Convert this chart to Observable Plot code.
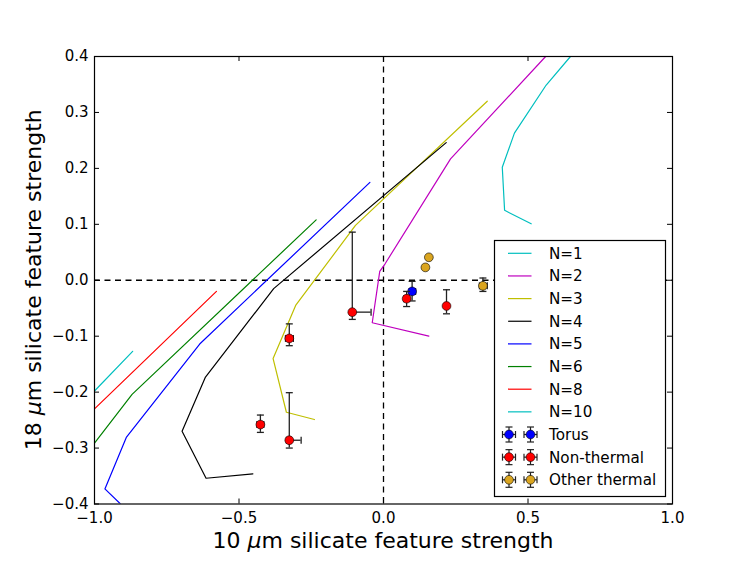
<!DOCTYPE html>
<html>
<head>
<meta charset="utf-8">
<script src="https://cdn.jsdelivr.net/npm/d3@7"></script>
<script src="https://cdn.jsdelivr.net/npm/@observablehq/plot@0.6"></script>
<style>
  body { margin: 0; background: #fff; }
  #chart { position: relative; width: 747px; height: 561px; }
</style>
</head>
<body>
<div id="chart"></div>
<script>
// ---- data ----
const xTicks = [-1.0, -0.5, 0.0, 0.5, 1.0];
const yTicks = [-0.4, -0.3, -0.2, -0.1, 0.0, 0.1, 0.2, 0.3, 0.4];

const seriesNames = ["N=1", "N=2", "N=3", "N=4", "N=5", "N=6", "N=8", "N=10"];
const seriesColors = ["#00bfbf", "#bf00bf", "#bfbf00", "#000000", "#0000ff", "#008000", "#ff0000", "#00bfbf"];

const curveN1 = [[0.647, 0.400], [0.563, 0.349], [0.453, 0.263], [0.411, 0.202], [0.419, 0.125], [0.511, 0.101]];
const curveN2 = [[0.561, 0.400], [0.232, 0.217], [0.005, 0.029], [-0.013, 0.016], [-0.039, -0.076], [0.157, -0.100]];
const curveN3 = [[0.359, 0.320], [-0.097, 0.098], [-0.304, -0.045], [-0.382, -0.140], [-0.336, -0.236], [-0.239, -0.249]];
const curveN4 = [[0.217, 0.246], [-0.380, -0.015], [-0.616, -0.173], [-0.697, -0.270], [-0.614, -0.354], [-0.452, -0.346]];
const curveN5 = [[-0.047, 0.175], [-0.636, -0.114], [-0.890, -0.281], [-0.964, -0.373], [-0.910, -0.400]];
const curveN6 = [[-0.233, 0.108], [-0.870, -0.204], [-1.000, -0.291]];
const curveN8 = [[-0.578, -0.020], [-1.000, -0.230]];
const curveN10 = [[-0.868, -0.127], [-1.000, -0.198]];
const curves = [curveN1, curveN2, curveN3, curveN4, curveN5, curveN6, curveN8, curveN10];

// points: [x, y, xlo, xhi, ylo, yhi]
const torus = [[0.099, -0.020, 0.089, 0.111, -0.037, -0.002]];
const nonThermal = [
  [-0.108, -0.057, -0.115, -0.043, -0.070, 0.086],
  [-0.326, -0.104, -0.339, -0.312, -0.117, -0.078],
  [-0.426, -0.258, -0.438, -0.414, -0.272, -0.241],
  [-0.326, -0.286, -0.336, -0.285, -0.300, -0.201],
  [0.080, -0.033, 0.070, 0.090, -0.047, -0.020],
  [0.218, -0.046, 0.212, 0.224, -0.060, -0.017]
];
const otherThermal = [
  [0.157, 0.041, 0.157, 0.157, 0.041, 0.041],
  [0.145, 0.023, 0.145, 0.145, 0.023, 0.023],
  [0.344, -0.010, 0.332, 0.359, -0.020, 0.004]
];
const groupNames = ["Torus", "Non-thermal", "Other thermal"];
const groupColors = ["#0000ff", "#ff0000", "#daa520"];
const groupData = [torus, nonThermal, otherThermal];

const xLabel = ["10 ", "μ", "m silicate feature strength"];
const yLabel = ["18 ", "μ", "m silicate feature strength"];

// ---- build ----
const W = 747, H = 561;
const mL = 94, mR = 75, mT = 56, mB = 57.5;
const plotW = W - mL - mR, plotH = H - mT - mB;
const font = "DejaVu Sans, sans-serif";
const tick = 5;
const errColor = "#222";
const tickFont = 15;
const legendFont = 15.2;

const hCap = { draw(ctx) { ctx.moveTo(-3.5, 0); ctx.lineTo(3.5, 0); } };
const vCap = { draw(ctx) { ctx.moveTo(0, -3.5); ctx.lineTo(0, 3.5); } };

const marks = [
  Plot.ruleX([0], { x: d => d, stroke: "black", strokeWidth: 1.3, strokeDasharray: "6,4.5" }),
  Plot.ruleY([0], { y: d => d, stroke: "black", strokeWidth: 1.3, strokeDasharray: "6,4.5" })
];
curves.forEach((c, i) => {
  marks.push(Plot.line(c, { x: d => d[0], y: d => d[1], stroke: seriesColors[i], strokeWidth: 1.2, clip: true }));
});
groupData.forEach((g, i) => {
  const rows = g.map(p => ({ x: p[0], y: p[1], xlo: p[2], xhi: p[3], ylo: p[4], yhi: p[5] }));
  marks.push(
    Plot.ruleX(rows, { x: "x", y1: "ylo", y2: "yhi", stroke: errColor, strokeWidth: 1.3 }),
    Plot.ruleY(rows, { y: "y", x1: "xlo", x2: "xhi", stroke: errColor, strokeWidth: 1.3 }),
    Plot.dot(rows, { x: "x", y: "ylo", symbol: hCap, fill: "none", stroke: errColor, strokeWidth: 1.3, r: 3 }),
    Plot.dot(rows, { x: "x", y: "yhi", symbol: hCap, fill: "none", stroke: errColor, strokeWidth: 1.3, r: 3 }),
    Plot.dot(rows, { x: "xlo", y: "y", symbol: vCap, fill: "none", stroke: errColor, strokeWidth: 1.3, r: 3 }),
    Plot.dot(rows, { x: "xhi", y: "y", symbol: vCap, fill: "none", stroke: errColor, strokeWidth: 1.3, r: 3 }),
    Plot.dot(rows, { x: "x", y: "y", r: 4.4, fill: groupColors[i], stroke: "black", strokeWidth: 0.6 })
  );
});
// inward ticks on all four sides
marks.push(
  Plot.tickX(xTicks, { x: d => d, insetTop: plotH - tick, stroke: "black" }),
  Plot.tickX(xTicks, { x: d => d, insetBottom: plotH - tick, stroke: "black" }),
  Plot.tickY(yTicks, { y: d => d, insetRight: plotW - tick, stroke: "black" }),
  Plot.tickY(yTicks, { y: d => d, insetLeft: plotW - tick, stroke: "black" }),
  Plot.axisX(xTicks, { tickSize: 0, tickPadding: 8, tickFormat: d3.format(".1f"), fontSize: tickFont, label: null }),
  Plot.axisY(yTicks, { tickSize: 0, tickPadding: 6, tickFormat: d3.format(".1f"), fontSize: tickFont, label: null }),
  Plot.frame({ stroke: "black", strokeWidth: 1.2 })
);

const svg = Plot.plot({
  width: W, height: H,
  marginLeft: mL, marginRight: mR, marginTop: mT, marginBottom: mB,
  style: { fontFamily: font, color: "black", background: "white" },
  x: { domain: [-1, 1] },
  y: { domain: [-0.4, 0.4] },
  marks
});
document.getElementById("chart").appendChild(svg);

const s = d3.select(svg);
// axis titles
function title(sel, parts) {
  sel.append("tspan").text(parts[0]);
  sel.append("tspan").attr("font-style", "italic").text(parts[1]);
  sel.append("tspan").text(parts[2]);
}
const xt = s.append("text").attr("x", mL + plotW / 2).attr("y", 547.5)
  .attr("text-anchor", "middle").attr("font-size", 22).attr("font-family", font).attr("fill", "black");
title(xt, xLabel);
const yt = s.append("text").attr("transform", `translate(41,${mT + plotH / 2}) rotate(-90)`)
  .attr("text-anchor", "middle").attr("font-size", 22).attr("font-family", font).attr("fill", "black");
title(yt, yLabel);

// legend
const lg = s.append("g").attr("font-family", font).attr("font-size", legendFont).attr("text-anchor", "start");
lg.append("rect").attr("x", 494.5).attr("y", 240.5).attr("width", 171).attr("height", 256)
  .attr("fill", "white").attr("stroke", "black").attr("stroke-width", 1.2);
const rowY = i => 253.3 + i * 22.65;
seriesNames.forEach((n, i) => {
  lg.append("line").attr("x1", 508).attr("x2", 531.5).attr("y1", rowY(i)).attr("y2", rowY(i))
    .attr("stroke", seriesColors[i]).attr("stroke-width", 1.2);
  lg.append("text").attr("x", 549).attr("y", rowY(i)).attr("dy", "0.36em")
    .attr("text-anchor", "start").attr("font-size", legendFont).text(n);
});
groupNames.forEach((n, j) => {
  const y = rowY(seriesNames.length + j);
  [509, 530.5].forEach(cx => {
    const g = lg.append("g").attr("stroke", errColor).attr("stroke-width", 1.2);
    g.append("line").attr("x1", cx - 6.5).attr("x2", cx + 6.5).attr("y1", y).attr("y2", y);
    g.append("line").attr("x1", cx).attr("x2", cx).attr("y1", y - 7.5).attr("y2", y + 7.5);
    g.append("line").attr("x1", cx - 6.5).attr("x2", cx - 6.5).attr("y1", y - 3.5).attr("y2", y + 3.5);
    g.append("line").attr("x1", cx + 6.5).attr("x2", cx + 6.5).attr("y1", y - 3.5).attr("y2", y + 3.5);
    g.append("line").attr("x1", cx - 3.5).attr("x2", cx + 3.5).attr("y1", y - 7.5).attr("y2", y - 7.5);
    g.append("line").attr("x1", cx - 3.5).attr("x2", cx + 3.5).attr("y1", y + 7.5).attr("y2", y + 7.5);
    lg.append("circle").attr("cx", cx).attr("cy", y).attr("r", 4.4)
      .attr("fill", groupColors[j]).attr("stroke", "black").attr("stroke-width", 0.6);
  });
  lg.append("text").attr("x", 549).attr("y", y).attr("dy", "0.36em")
    .attr("text-anchor", "start").attr("font-size", legendFont).text(n);
});
</script>
</body>
</html>
